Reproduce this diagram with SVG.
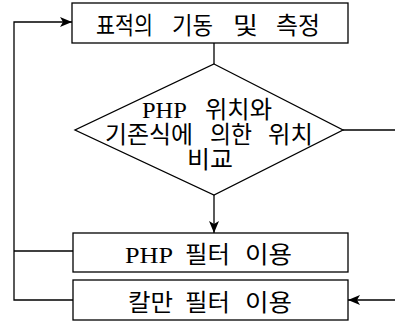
<svg xmlns="http://www.w3.org/2000/svg" width="395" height="322" viewBox="0 0 395 322">
<style>
.box{fill:#fff;stroke:#000;stroke-width:1.3}
.ln{fill:none;stroke:#000;stroke-width:1.3}
.t{font-family:"Liberation Serif","Noto Sans CJK KR",serif;font-size:24px;fill:#000}
</style>
<defs>
<marker id="ah" viewBox="0 0 12 10" refX="12" refY="5" markerWidth="12" markerHeight="10" markerUnits="userSpaceOnUse" orient="auto">
<path d="M0,0 L12,5 L0,10 L3,5 Z" fill="#000"/>
</marker>
</defs>
<rect width="395" height="322" fill="#fff"/>
<g id="connectors">
<line class="ln" x1="214" y1="43" x2="214" y2="64"/>
<line class="ln" x1="214" y1="195" x2="214" y2="233" marker-end="url(#ah)"/>
<line class="ln" x1="343" y1="130" x2="395" y2="130"/>
<line class="ln" x1="395" y1="300" x2="348" y2="300" marker-end="url(#ah)"/>
<polyline class="ln" points="73,251 14,251"/>
<polyline class="ln" points="73,300 14,300 14,22 72,22" marker-end="url(#ah)"/>
</g>
<g id="n1">
<rect class="box" x="72" y="3" width="276" height="40"/>
<text class="t" y="33.5"><tspan x="96" textLength="57" lengthAdjust="spacingAndGlyphs">표적의</tspan> <tspan x="172" textLength="41" lengthAdjust="spacingAndGlyphs">기동</tspan> <tspan x="233" textLength="25" lengthAdjust="spacingAndGlyphs">및</tspan> <tspan x="276" textLength="44" lengthAdjust="spacingAndGlyphs">측정</tspan></text>
</g>
<g id="n2">
<polygon class="box" points="214,64 343,130 214,195 75,130"/>
<text class="t" y="118"><tspan x="142" textLength="44" lengthAdjust="spacingAndGlyphs">PHP</tspan> <tspan x="205" textLength="67" lengthAdjust="spacingAndGlyphs">위치와</tspan></text>
<text class="t" y="143"><tspan x="105" textLength="88" lengthAdjust="spacingAndGlyphs">기존식에</tspan> <tspan x="210" textLength="42" lengthAdjust="spacingAndGlyphs">의한</tspan> <tspan x="268" textLength="45" lengthAdjust="spacingAndGlyphs">위치</tspan></text>
<text class="t" y="168"><tspan x="187" textLength="46" lengthAdjust="spacingAndGlyphs">비교</tspan></text>
</g>
<g id="n3">
<rect class="box" x="73" y="233" width="275" height="39"/>
<text class="t" y="263"><tspan x="125" textLength="47" lengthAdjust="spacingAndGlyphs">PHP</tspan> <tspan x="185" textLength="45" lengthAdjust="spacingAndGlyphs">필터</tspan> <tspan x="245" textLength="47" lengthAdjust="spacingAndGlyphs">이용</tspan></text>
</g>
<g id="n4">
<rect class="box" x="73" y="280" width="275" height="40"/>
<text class="t" y="311"><tspan x="128" textLength="45" lengthAdjust="spacingAndGlyphs">칼만</tspan> <tspan x="185" textLength="45" lengthAdjust="spacingAndGlyphs">필터</tspan> <tspan x="245" textLength="47" lengthAdjust="spacingAndGlyphs">이용</tspan></text>
</g>
</svg>
